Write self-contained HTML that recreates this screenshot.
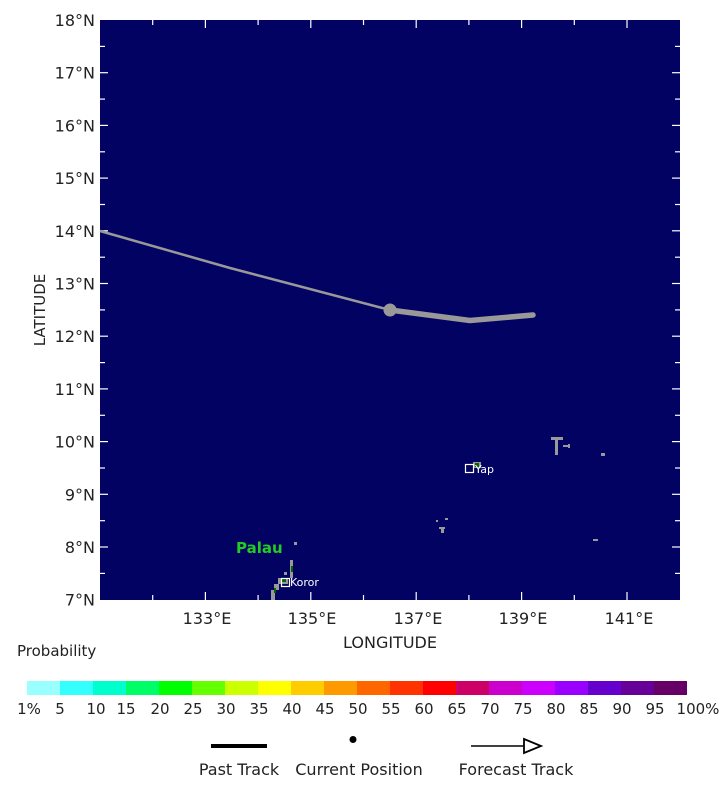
<!DOCTYPE html>
<html><head><meta charset="utf-8"><style>
html,body{margin:0;padding:0;background:#fff;}
svg{display:block;font-family:"DejaVu Sans","Liberation Sans",sans-serif;}
</style></head><body>
<svg width="720" height="810" viewBox="0 0 720 810" xmlns="http://www.w3.org/2000/svg">
<rect x="100" y="20" width="580" height="580" fill="#020263"/>
<g stroke="#fff" stroke-width="1.2">
<line x1="100" y1="72.7" x2="108" y2="72.7"/><line x1="100" y1="125.4" x2="108" y2="125.4"/><line x1="100" y1="178.1" x2="108" y2="178.1"/><line x1="100" y1="230.8" x2="108" y2="230.8"/><line x1="100" y1="283.5" x2="108" y2="283.5"/><line x1="100" y1="336.2" x2="108" y2="336.2"/><line x1="100" y1="388.9" x2="108" y2="388.9"/><line x1="100" y1="441.6" x2="108" y2="441.6"/><line x1="100" y1="494.3" x2="108" y2="494.3"/><line x1="100" y1="547" x2="108" y2="547"/>
<line x1="100" y1="46.4" x2="105" y2="46.4"/><line x1="100" y1="99.1" x2="105" y2="99.1"/><line x1="100" y1="151.8" x2="105" y2="151.8"/><line x1="100" y1="204.5" x2="105" y2="204.5"/><line x1="100" y1="257.2" x2="105" y2="257.2"/><line x1="100" y1="309.9" x2="105" y2="309.9"/><line x1="100" y1="362.6" x2="105" y2="362.6"/><line x1="100" y1="415.3" x2="105" y2="415.3"/><line x1="100" y1="468" x2="105" y2="468"/><line x1="100" y1="520.7" x2="105" y2="520.7"/><line x1="100" y1="573.4" x2="105" y2="573.4"/>
<line x1="680" y1="72.7" x2="672" y2="72.7"/><line x1="680" y1="125.4" x2="672" y2="125.4"/><line x1="680" y1="178.1" x2="672" y2="178.1"/><line x1="680" y1="230.8" x2="672" y2="230.8"/><line x1="680" y1="283.5" x2="672" y2="283.5"/><line x1="680" y1="336.2" x2="672" y2="336.2"/><line x1="680" y1="388.9" x2="672" y2="388.9"/><line x1="680" y1="441.6" x2="672" y2="441.6"/><line x1="680" y1="494.3" x2="672" y2="494.3"/><line x1="680" y1="547" x2="672" y2="547"/>
<line x1="680" y1="46.4" x2="675" y2="46.4"/><line x1="680" y1="99.1" x2="675" y2="99.1"/><line x1="680" y1="151.8" x2="675" y2="151.8"/><line x1="680" y1="204.5" x2="675" y2="204.5"/><line x1="680" y1="257.2" x2="675" y2="257.2"/><line x1="680" y1="309.9" x2="675" y2="309.9"/><line x1="680" y1="362.6" x2="675" y2="362.6"/><line x1="680" y1="415.3" x2="675" y2="415.3"/><line x1="680" y1="468" x2="675" y2="468"/><line x1="680" y1="520.7" x2="675" y2="520.7"/><line x1="680" y1="573.4" x2="675" y2="573.4"/>
<line x1="205.4" y1="600" x2="205.4" y2="592"/><line x1="310.8" y1="600" x2="310.8" y2="592"/><line x1="416.2" y1="600" x2="416.2" y2="592"/><line x1="521.6" y1="600" x2="521.6" y2="592"/><line x1="627" y1="600" x2="627" y2="592"/>
<line x1="152.7" y1="600" x2="152.7" y2="595"/><line x1="258.1" y1="600" x2="258.1" y2="595"/><line x1="363.5" y1="600" x2="363.5" y2="595"/><line x1="468.9" y1="600" x2="468.9" y2="595"/><line x1="574.3" y1="600" x2="574.3" y2="595"/>
<line x1="205.4" y1="20" x2="205.4" y2="28"/><line x1="310.8" y1="20" x2="310.8" y2="28"/><line x1="416.2" y1="20" x2="416.2" y2="28"/><line x1="521.6" y1="20" x2="521.6" y2="28"/><line x1="627" y1="20" x2="627" y2="28"/>
<line x1="152.7" y1="20" x2="152.7" y2="25"/><line x1="258.1" y1="20" x2="258.1" y2="25"/><line x1="363.5" y1="20" x2="363.5" y2="25"/><line x1="468.9" y1="20" x2="468.9" y2="25"/><line x1="574.3" y1="20" x2="574.3" y2="25"/>
</g>
<g fill="#999">
<rect x="290" y="560" width="3" height="18"/><rect x="284" y="572" width="3" height="3"/><rect x="278" y="578" width="10" height="6"/><rect x="274" y="584" width="5" height="6"/><rect x="271" y="590" width="4" height="10"/><rect x="294" y="542" width="3" height="3"/>
<rect x="473" y="462" width="8" height="6"/>
<rect x="551" y="437" width="12" height="3"/><rect x="555" y="440" width="3" height="15"/><rect x="563" y="445" width="7" height="2"/><rect x="568" y="444" width="2" height="4"/><rect x="601" y="453" width="4" height="3"/>
<rect x="436" y="520" width="2" height="2"/><rect x="445" y="518" width="3" height="2"/><rect x="439" y="527" width="6" height="2"/><rect x="441" y="529" width="3" height="4"/><rect x="593" y="539" width="5" height="2"/>
</g>
<g fill="#006600"><rect x="475" y="463" width="4" height="4"/><rect x="282" y="579" width="4" height="3"/><rect x="274" y="588" width="2" height="5"/><rect x="291" y="566" width="2" height="6"/></g>
<rect x="465.5" y="464.5" width="8" height="8" fill="none" stroke="#fff" stroke-width="1.2"/>
<text x="475" y="473" font-size="11" fill="#fff">Yap</text>
<rect x="281.5" y="578.5" width="8" height="8" fill="none" stroke="#fff" stroke-width="1.2"/>
<text x="290" y="586" font-size="11" fill="#fff">Koror</text>
<text x="236" y="553" font-size="15" font-weight="bold" fill="#22cc22">Palau</text>
<polyline points="100,231 230,268 390,310" fill="none" stroke="#999" stroke-width="2.5"/>
<polyline points="390,310 470,320.5 533,315" fill="none" stroke="#999" stroke-width="5.5" stroke-linejoin="round" stroke-linecap="round"/>
<circle cx="390" cy="310" r="6.5" fill="#999"/>
<g font-size="16" fill="#222" text-anchor="end">
<text x="95" y="26">18°N</text><text x="95" y="78.7">17°N</text><text x="95" y="131.4">16°N</text><text x="95" y="184.1">15°N</text><text x="95" y="236.8">14°N</text><text x="95" y="289.5">13°N</text><text x="95" y="342.2">12°N</text><text x="95" y="394.9">11°N</text><text x="95" y="447.6">10°N</text><text x="95" y="500.3">9°N</text><text x="95" y="553">8°N</text><text x="95" y="605.7">7°N</text>
</g>
<g font-size="16" fill="#222" text-anchor="middle">
<text x="207" y="624">133°E</text><text x="312" y="624">135°E</text><text x="418" y="624">137°E</text><text x="523" y="624">139°E</text><text x="629" y="624">141°E</text>
<text x="390" y="648">LONGITUDE</text>
</g>
<text transform="translate(45,310) rotate(-90)" font-size="15" fill="#222" text-anchor="middle">LATITUDE</text>
<text x="17" y="656" font-size="15" fill="#222">Probability</text>
<g>
<rect x="27" y="681" width="34" height="14" fill="#99ffff"/><rect x="60" y="681" width="34" height="14" fill="#33ffff"/><rect x="93" y="681" width="34" height="14" fill="#00ffcc"/><rect x="126" y="681" width="34" height="14" fill="#00ff66"/><rect x="159" y="681" width="34" height="14" fill="#00ff00"/><rect x="192" y="681" width="34" height="14" fill="#66ff00"/><rect x="225" y="681" width="34" height="14" fill="#ccff00"/><rect x="258" y="681" width="34" height="14" fill="#ffff00"/><rect x="291" y="681" width="34" height="14" fill="#ffcc00"/><rect x="324" y="681" width="34" height="14" fill="#ff9900"/><rect x="357" y="681" width="34" height="14" fill="#ff6600"/><rect x="390" y="681" width="34" height="14" fill="#ff3300"/><rect x="423" y="681" width="34" height="14" fill="#ff0000"/><rect x="456" y="681" width="34" height="14" fill="#cc0066"/><rect x="489" y="681" width="34" height="14" fill="#cc00cc"/><rect x="522" y="681" width="34" height="14" fill="#cc00ff"/><rect x="555" y="681" width="34" height="14" fill="#9900ff"/><rect x="588" y="681" width="34" height="14" fill="#6600cc"/><rect x="621" y="681" width="34" height="14" fill="#660099"/><rect x="654" y="681" width="33" height="14" fill="#660066"/>
</g>
<g font-size="15" fill="#222" text-anchor="middle">
<text x="29" y="714">1%</text><text x="60" y="714">5</text><text x="96" y="714">10</text><text x="126" y="714">15</text><text x="160" y="714">20</text><text x="193" y="714">25</text><text x="226" y="714">30</text><text x="259" y="714">35</text><text x="292" y="714">40</text><text x="325" y="714">45</text><text x="358" y="714">50</text><text x="391" y="714">55</text><text x="424" y="714">60</text><text x="457" y="714">65</text><text x="490" y="714">70</text><text x="523" y="714">75</text><text x="556" y="714">80</text><text x="589" y="714">85</text><text x="622" y="714">90</text><text x="655" y="714">95</text><text x="698" y="714">100%</text>
</g>
<line x1="211" y1="746" x2="267" y2="746" stroke="#000" stroke-width="4"/>
<circle cx="353" cy="739.5" r="3.5" fill="#000"/>
<line x1="471" y1="746" x2="524" y2="746" stroke="#000" stroke-width="1.5"/>
<polygon points="524,739 541,746 524,753" fill="#fff" stroke="#000" stroke-width="1.8"/>
<g font-size="16" fill="#222" text-anchor="middle">
<text x="239" y="775">Past Track</text><text x="359" y="775">Current Position</text><text x="516" y="775">Forecast Track</text>
</g>
</svg>
</body></html>
